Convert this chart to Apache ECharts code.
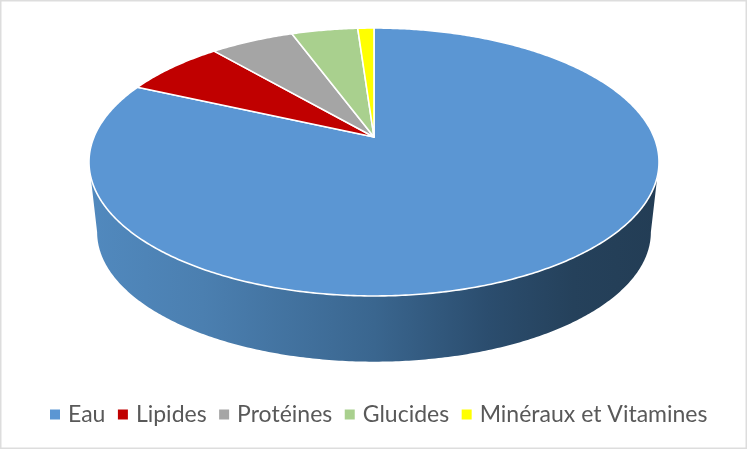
<!DOCTYPE html>
<html><head><meta charset="utf-8">
<style>html,body{margin:0;padding:0;background:#fff}#c{width:747px;height:449px}</style>
<script src="https://cdn.jsdelivr.net/npm/echarts@6/dist/echarts.min.js"></script>
</head><body><div id="c"></div>
<script>
const categories = ['Eau','Lipides','Protéines','Glucides','Minéraux et Vitamines'];
const values = [81.8,6.9,5.7,4.5,1.1];
const colors = ['#5B96D3','#C00000','#A5A5A5','#A9D08E','#FFFF00'];

const total = values.reduce((a,b)=>a+b,0);
const cx=374, k=0.1866;
const topFace={yc:137,A:280,B:129.3};
const botFace={yc:208,A:272,B:125};
function pt(f,t){const w=1+k*Math.cos(t);return [cx+f.A*Math.sin(t)/w, f.yc-f.B*Math.cos(t)/w];}
function arc(f,a,b){const n=Math.max(2,Math.ceil(Math.abs(b-a)/0.01)),p=[];for(let i=0;i<=n;i++)p.push(pt(f,a+(b-a)*i/n));return p;}
const wallA=Math.acos(-k), wallB=2*Math.PI-wallA;

function renderSlice(idx){
  return function(params,api){
    let s=0;for(let i=0;i<idx;i++)s+=values[i];
    const a=s/total*2*Math.PI,b=(s+values[idx])/total*2*Math.PI;
    const children=[];
    if(idx===0){
      const wall=arc(topFace,wallA,wallB).concat(arc(botFace,wallA,wallB).reverse());
      children.push({type:'polygon',shape:{points:wall},style:{
        fill:new echarts.graphic.LinearGradient(0,0,1,0,[
          {offset:0,color:'#5189BE'},{offset:.2,color:'#4B7FB0'},{offset:.5,color:'#3A668F'},
          {offset:.7,color:'#2B4D6E'},{offset:.85,color:'#25415B'},{offset:1,color:'#233D55'}])}});
    }
    children.push({type:'polygon',shape:{points:[[cx,topFace.yc]].concat(arc(topFace,a,b))},
      style:{fill:colors[idx],stroke:'#fff',lineWidth:1.6,lineJoin:'round'}});
    return {type:'group',children};
  };
}
const chart=echarts.init(document.getElementById('c'),null,{renderer:'canvas'});
chart.setOption({
  animation:false,backgroundColor:'#fff',
  legend:{data:categories,left:45,top:398,icon:'rect',itemWidth:10,itemHeight:10,itemGap:12.5,
    textStyle:{fontFamily:'Lato',fontSize:23,color:'#595959',padding:[0,0,0,3]},selectedMode:false},
  graphic:[{type:'rect',shape:{x:0.5,y:0.5,width:746,height:448},style:{fill:'none',stroke:'#DDDDDD',lineWidth:2},silent:true,z:100}],
  series:categories.map((name,i)=>({type:'custom',name,coordinateSystem:'none',data:[values[i]],
    itemStyle:{color:colors[i]},renderItem:renderSlice(i),silent:true}))
});
</script></body></html>
